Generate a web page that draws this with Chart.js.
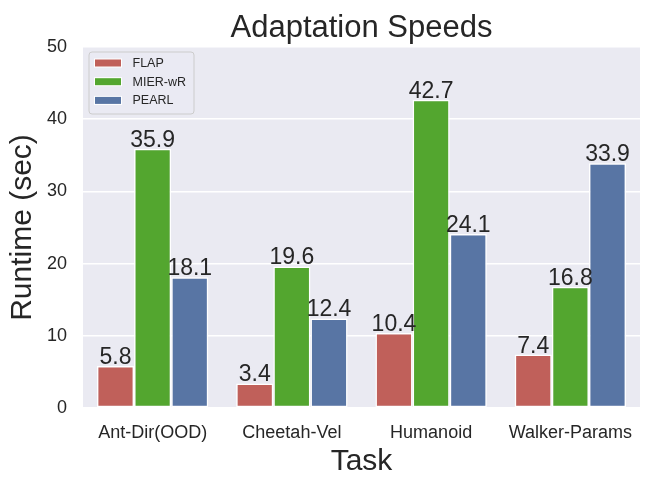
<!DOCTYPE html>
<html>
<head>
<meta charset="utf-8">
<script src="https://cdn.jsdelivr.net/npm/chart.js@4/dist/chart.umd.min.js"></script>
<style>
  html, body { margin: 0; padding: 0; background: #ffffff; }
  #wrap { width: 658px; height: 489px; }
</style>
</head>
<body>
<div id="wrap"><canvas id="chart" width="658" height="489"></canvas></div>
<script>
// --- Data ---
const tasks = ['Ant-Dir(OOD)', 'Cheetah-Vel', 'Humanoid', 'Walker-Params'];
const flapValues = [5.8, 3.4, 10.4, 7.4];
const mierValues = [35.9, 19.6, 42.7, 16.8];
const pearlValues = [18.1, 12.4, 24.1, 33.9];
const seriesNames = ['FLAP', 'MIER-wR', 'PEARL'];
const seriesColors = ['#c0605a', '#53a62f', '#5875a4'];
const chartTitle = 'Adaptation Speeds';

const FONT = '"Liberation Sans", Arial, sans-serif';
const TEXT_COLOR = '#262626';

// --- Plugins ---
const plotBackground = {
    id: 'plotBackground',
    beforeDraw(chart) {
        const { ctx, chartArea: a } = chart;
        ctx.save();
        ctx.fillStyle = '#eaeaf2';
        ctx.fillRect(a.left, a.top, a.right - a.left, a.bottom - a.top);
        ctx.restore();
    }
};

// title centred over the plot area, like matplotlib does
const plotTitle = {
    id: 'plotTitle',
    afterDraw(chart) {
        const { ctx, chartArea: a } = chart;
        ctx.save();
        ctx.font = '31px ' + FONT;
        ctx.fillStyle = TEXT_COLOR;
        ctx.textAlign = 'center';
        ctx.textBaseline = 'alphabetic';
        ctx.fillText(chartTitle, (a.left + a.right) / 2, a.top - 10.5);
        ctx.restore();
    }
};

const barLabels = {
    id: 'barLabels',
    afterDatasetsDraw(chart) {
        const ctx = chart.ctx;
        ctx.save();
        ctx.font = '23px ' + FONT;
        ctx.fillStyle = TEXT_COLOR;
        ctx.textAlign = 'center';
        ctx.textBaseline = 'alphabetic';
        chart.data.datasets.forEach((ds, i) => {
            chart.getDatasetMeta(i).data.forEach((bar, j) => {
                ctx.fillText(ds.data[j].toFixed(1), bar.x, bar.y - 2);
            });
        });
        ctx.restore();
    }
};

const boxLegend = {
    id: 'boxLegend',
    afterDraw(chart) {
        const ctx = chart.ctx;
        const a = chart.chartArea;
        const x = a.left + 6, y = a.top + 5, w = 105, h = 62;
        ctx.save();
        ctx.beginPath();
        ctx.roundRect(x, y, w, h, 3);
        ctx.fillStyle = 'rgba(234,234,242,0.8)';
        ctx.fill();
        ctx.strokeStyle = '#cccccc';
        ctx.lineWidth = 1;
        ctx.stroke();
        ctx.font = '12.5px ' + FONT;
        ctx.textBaseline = 'middle';
        chart.data.datasets.forEach((ds, i) => {
            const cy = y + 11 + i * 18.7;
            ctx.fillStyle = '#ffffff';
            ctx.fillRect(x + 5, cy - 4.5, 28, 9);
            ctx.fillStyle = ds.backgroundColor;
            ctx.fillRect(x + 6, cy - 3.5, 26, 7);
            ctx.fillStyle = TEXT_COLOR;
            ctx.fillText(ds.label, x + 43.5, cy + 0.5);
        });
        ctx.restore();
    }
};

// --- Chart ---
const allValues = [flapValues, mierValues, pearlValues];
const datasets = seriesNames.map((name, i) => ({
    label: name,
    data: allValues[i],
    backgroundColor: seriesColors[i],
    borderColor: '#ffffff',
    borderWidth: 1.5,
    borderSkipped: false,
    categoryPercentage: 0.8,
    barPercentage: 1.0
}));

new Chart(document.getElementById('chart'), {
    type: 'bar',
    data: { labels: tasks, datasets: datasets },
    options: {
        responsive: false,
        animation: false,
        devicePixelRatio: 1,
        layout: { padding: { left: 0, right: 18, top: 47, bottom: 0 } },
        plugins: {
            legend: { display: false },
            tooltip: { enabled: false },
            title: { display: false }
        },
        scales: {
            x: {
                grid: { display: false, drawTicks: false },
                border: { display: false },
                ticks: { color: TEXT_COLOR, font: { family: FONT, size: 18 }, padding: 14 },
                title: {
                    display: true, text: 'Task', color: TEXT_COLOR,
                    font: { family: FONT, size: 30 }, padding: { top: 0, bottom: 9.5 }
                },
                afterFit(axis) { axis.height = 81; }
            },
            y: {
                min: 0, max: 50,
                grid: { color: '#ffffff', lineWidth: 1.5, drawTicks: false },
                border: { display: false },
                ticks: { stepSize: 10, color: TEXT_COLOR, font: { family: FONT, size: 18 }, padding: 16 },
                title: {
                    display: true, text: 'Runtime (sec)', color: TEXT_COLOR,
                    font: { family: FONT, size: 30 }, padding: { top: 5, bottom: 0 }
                },
                afterFit(axis) { axis.width = 83; }
            }
        }
    },
    plugins: [plotBackground, barLabels, boxLegend, plotTitle]
});
</script>
</body>
</html>
